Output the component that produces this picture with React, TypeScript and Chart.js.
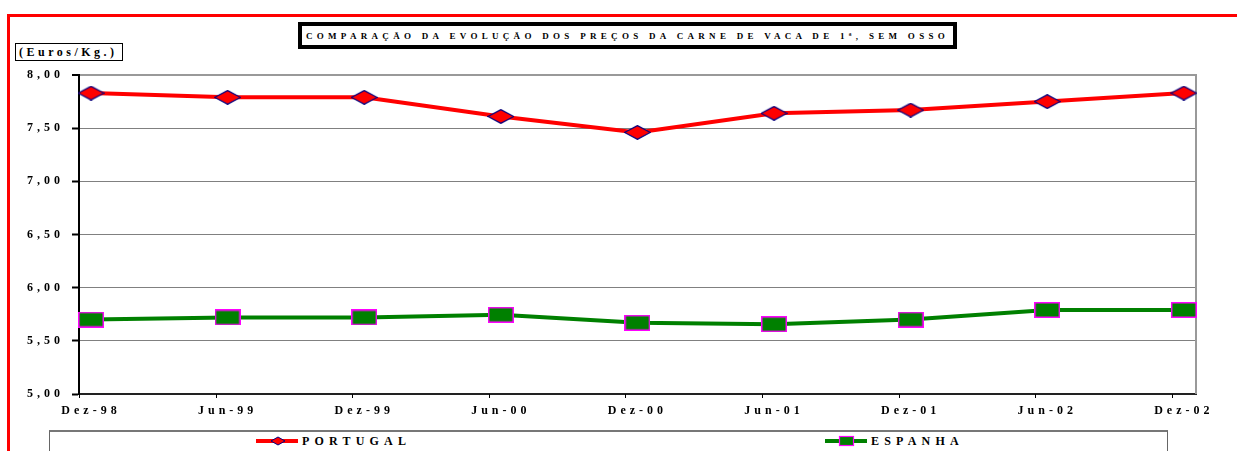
import React, { useEffect, useRef } from "react";
import { Chart, registerables } from "chart.js";

Chart.register(...registerables);

const categories = ["Dez-98", "Jun-99", "Dez-99", "Jun-00", "Dez-00", "Jun-01", "Dez-01", "Jun-02", "Dez-02"];
const portugal = [7.83, 7.79, 7.79, 7.61, 7.46, 7.64, 7.67, 7.75, 7.83];
const espanha = [5.7, 5.72, 5.72, 5.745, 5.67, 5.656, 5.7, 5.79, 5.79];
const yTicks = [5, 5.5, 6, 6.5, 7, 7.5, 8];

const TITLE = "COMPARAÇÃO DA EVOLUÇÃO DOS PREÇOS DA CARNE DE VACA DE 1ª, SEM OSSO";
const UNIT = "(Euros/Kg.)";
const FONT = "'Liberation Serif', 'Times New Roman', serif";

function makeDiamond(w: number, h: number, fill: string, stroke: string) {
  const c = document.createElement("canvas");
  c.width = w;
  c.height = h;
  const g = c.getContext("2d")!;
  g.beginPath();
  g.moveTo(0.6, h / 2);
  g.lineTo(w / 2, 0.6);
  g.lineTo(w - 0.6, h / 2);
  g.lineTo(w / 2, h - 0.6);
  g.closePath();
  g.fillStyle = fill;
  g.fill();
  g.strokeStyle = stroke;
  g.lineWidth = 1.2;
  g.stroke();
  return c;
}

function makeRect(w: number, h: number, fill: string, stroke: string) {
  const c = document.createElement("canvas");
  c.width = w;
  c.height = h;
  const g = c.getContext("2d")!;
  g.fillStyle = fill;
  g.fillRect(0, 0, w, h);
  g.strokeStyle = stroke;
  g.lineWidth = 1.5;
  g.strokeRect(0.75, 0.75, w - 1.5, h - 1.5);
  return c;
}

export default function App() {
  const ref = useRef<HTMLCanvasElement | null>(null);

  useEffect(() => {
    if (!ref.current) return;
    const diamond = makeDiamond(27, 15, "#FF0000", "#000080");
    const square = makeRect(26, 16, "#008000", "#FF00FF");

    const extras = {
      id: "extras",
      beforeDraw(chart: any) {
        chart.ctx.letterSpacing = "4px";
      },
      beforeDatasetsDraw(chart: any) {
        const { ctx, chartArea, scales } = chart;
        const x = scales.x;
        ctx.save();
        ctx.strokeStyle = "#999999";
        ctx.lineWidth = 2;
        ctx.beginPath();
        ctx.moveTo(chartArea.right, chartArea.top - 1);
        ctx.lineTo(chartArea.right, chartArea.bottom);
        ctx.stroke();
        ctx.strokeStyle = "#000000";
        ctx.lineWidth = 1;
        categories.forEach((_, i) => {
          const px = Math.round(x.getPixelForValue(i - 0.088)) + 0.5;
          ctx.beginPath();
          ctx.moveTo(px, chartArea.bottom);
          ctx.lineTo(px, chartArea.bottom + 4);
          ctx.stroke();
        });
        ctx.restore();
      },
    };

    const chart = new Chart(ref.current, {
      type: "line",
      data: {
        datasets: [
          {
            label: "PORTUGAL",
            data: portugal.map((v, i) => ({ x: i, y: v })),
            borderColor: "#FF0000",
            backgroundColor: "#FF0000",
            borderWidth: 4,
            pointStyle: diamond as any,
            pointRadius: 8,
            tension: 0,
            clip: false as any,
          },
          {
            label: "ESPANHA",
            data: espanha.map((v, i) => ({ x: i, y: v })),
            borderColor: "#008000",
            backgroundColor: "#008000",
            borderWidth: 4,
            pointStyle: square as any,
            pointRadius: 8,
            tension: 0,
            clip: false as any,
          },
        ],
      },
      options: {
        animation: false,
        responsive: false,
        maintainAspectRatio: false,
        layout: { padding: { left: 0, top: 75, right: 41, bottom: 17 } },
        plugins: {
          legend: { display: false },
          title: { display: false },
          tooltip: { enabled: false },
        },
        scales: {
          x: {
            type: "linear",
            min: -0.088,
            max: 8.089,
            afterBuildTicks: (scale: any) => {
              scale.ticks = categories.map((_, i) => ({ value: i }));
            },
            afterFit: (scale: any) => {
              scale.height = 40;
            },
            border: { color: "#222222", width: 2 },
            grid: { color: "rgba(0,0,0,0)", drawTicks: true, tickLength: 4 },
            ticks: {
              autoSkip: false,
              maxRotation: 0,
              padding: 6,
              color: "#000000",
              font: { family: FONT, size: 12, weight: "bold" },
              callback: (v: any) => categories[Math.round(Number(v))] ?? "",
            },
          },
          y: {
            min: 5,
            max: 8,
            afterBuildTicks: (scale: any) => {
              scale.ticks = yTicks.map((v) => ({ value: v }));
            },
            afterFit: (scale: any) => {
              scale.width = 79;
            },
            border: { color: "#000000", width: 2 },
            grid: {
              color: (c: any) => (c.tick && c.tick.value === 8 ? "#999999" : "#808080"),
              lineWidth: (c: any) => (c.tick && c.tick.value === 8 ? 2 : 1),
              tickColor: "#000000",
              tickWidth: 2,
              tickLength: 7,
            },
            ticks: {
              padding: 8,
              color: "#000000",
              font: { family: FONT, size: 12, weight: "bold" },
              callback: (v: any) => Number(v).toFixed(2).replace(".", ","),
            },
          },
        },
      },
      plugins: [extras],
    });
    return () => chart.destroy();
  }, []);

  const legendText: React.CSSProperties = {
    position: "absolute",
    top: 434,
    fontFamily: FONT,
    fontWeight: "bold",
    fontSize: 12,
    letterSpacing: "5.2px",
    lineHeight: "14px",
    color: "#000",
    whiteSpace: "nowrap",
  };

  return (
    <div style={{ position: "absolute", left: 0, top: 0, width: 1237, height: 451, overflow: "hidden", background: "#fff" }}>
      <canvas ref={ref} width={1237} height={451} style={{ position: "absolute", left: 0, top: 0, width: 1237, height: 451 }} />
      <div style={{ position: "absolute", left: 7, top: 14, width: 1400, height: 600, borderTop: "3px solid #FF0000", borderLeft: "3px solid #FF0000", boxSizing: "border-box" }} />
      <div
        style={{
          position: "absolute",
          left: 298,
          top: 22,
          width: 659,
          height: 27,
          border: "4px solid #000",
          boxSizing: "border-box",
          background: "#fff",
          display: "flex",
          alignItems: "center",
          justifyContent: "center",
          fontFamily: FONT,
          fontWeight: "bold",
          fontSize: 9,
          letterSpacing: "4.3px",
          whiteSpace: "nowrap",
          color: "#000",
        }}
      >
        {TITLE}
      </div>
      <div
        style={{
          position: "absolute",
          left: 15,
          top: 43,
          width: 108,
          height: 18,
          border: "1px solid #000",
          boxSizing: "border-box",
          background: "#fff",
          display: "flex",
          alignItems: "center",
          paddingLeft: 3,
          fontFamily: FONT,
          fontWeight: "bold",
          fontSize: 12,
          letterSpacing: "3.5px",
          whiteSpace: "nowrap",
          color: "#000",
        }}
      >
        {UNIT}
      </div>
      <div style={{ position: "absolute", left: 49, top: 430, width: 1119, height: 60, border: "1px solid #666", borderTop: "2px solid #777", boxSizing: "border-box", background: "#fff" }} />
      <svg style={{ position: "absolute", left: 255, top: 434 }} width={44} height={14}>
        <line x1={1} y1={7} x2={43} y2={7} stroke="#FF0000" strokeWidth={4} />
        <polygon points="16,7 23,3 30,7 23,11" fill="#FF0000" stroke="#000080" strokeWidth={1} />
      </svg>
      <div style={{ ...legendText, left: 302 }}>PORTUGAL</div>
      <svg style={{ position: "absolute", left: 824, top: 434 }} width={44} height={14}>
        <line x1={1} y1={7} x2={43} y2={7} stroke="#008000" strokeWidth={4} />
        <rect x={15.5} y={2.5} width={14} height={9} fill="#008000" stroke="#FF00FF" strokeWidth={1.2} />
      </svg>
      <div style={{ ...legendText, left: 871 }}>ESPANHA</div>
    </div>
  );
}
